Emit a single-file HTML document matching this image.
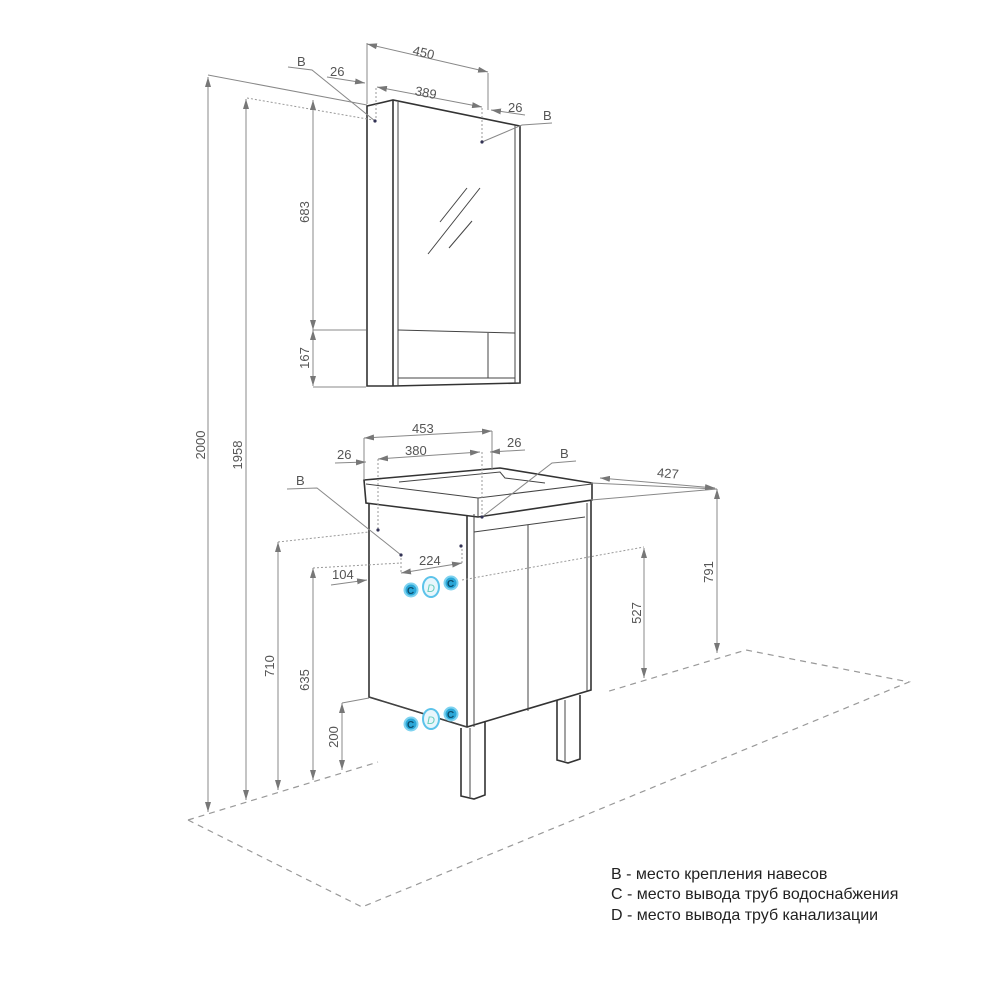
<!DOCTYPE html>
<html><head><meta charset="utf-8"><style>
html,body{margin:0;padding:0;background:#fff;}
svg{display:block;}
text{font-family:"Liberation Sans",sans-serif;fill:#555;font-size:13px;}
.o{stroke:#333;stroke-width:1.6;fill:none;}
.t{stroke:#444;stroke-width:1;fill:none;}
.d{stroke:#888;stroke-width:1;fill:none;}
.dot{stroke:#999;stroke-width:1;stroke-dasharray:2 2;fill:none;}
.fl{stroke:#999;stroke-width:1.2;stroke-dasharray:6 5;fill:none;}
.cc{fill:#2aa7d8;stroke:#7fd3f0;stroke-width:2;}
</style></head><body>
<svg width="1000" height="1000" viewBox="0 0 1000 1000" xmlns="http://www.w3.org/2000/svg">
<defs>
<marker id="a" viewBox="0 0 10 6" refX="10" refY="3" markerWidth="10" markerHeight="6" orient="auto-start-reverse" markerUnits="userSpaceOnUse"><path d="M0,0 L10,3 L0,6 z" fill="#777"/></marker>
</defs>

<path class="fl" d="M188,820 L378,762"/>
<path class="fl" d="M188,820 L362,907 L909,682 L746,650 L606,692"/>

<path class="o" d="M367,106 L393,100 L515,125 L520,126 L520,383 L393,386 L367,386 Z"/>
<line class="o" x1="393" y1="100" x2="393" y2="386"/>
<line class="t" x1="398" y1="102" x2="398" y2="386"/>
<line class="t" x1="515" y1="125" x2="515" y2="383"/>
<line class="t" x1="398" y1="330" x2="515" y2="333"/>
<line class="t" x1="488" y1="333" x2="488" y2="378"/>
<line class="t" x1="398" y1="378" x2="515" y2="378"/>
<line class="t" x1="440" y1="222" x2="467" y2="188"/>
<line class="t" x1="428" y1="254" x2="480" y2="188"/>
<line class="t" x1="449" y1="248" x2="472" y2="221"/>
<line class="d" x1="367" y1="43" x2="367" y2="104"/>
<line class="d" x1="488" y1="73" x2="488" y2="110"/>
<line class="d" x1="367" y1="44" x2="488" y2="72" marker-start="url(#a)" marker-end="url(#a)"/>
<text x="413" y="58" transform="rotate(13 428 52)">450</text>
<line class="dot" x1="376" y1="88" x2="376" y2="122"/>
<line class="dot" x1="482" y1="108" x2="482" y2="142"/>
<line class="d" x1="377" y1="87" x2="482" y2="107" marker-start="url(#a)" marker-end="url(#a)"/>
<text x="415" y="98" transform="rotate(11 430 93)">389</text>
<line class="d" x1="327" y1="77" x2="365" y2="83" marker-end="url(#a)"/>
<text x="330" y="76">26</text>
<line class="d" x1="525" y1="115" x2="491" y2="110" marker-end="url(#a)"/>
<text x="508" y="112">26</text>
<path class="d" d="M288,67 L312,70 L375,121"/>
<text x="297" y="66">B</text>
<path class="d" d="M482,142 L522,125 L552,123"/>
<text x="543" y="120">B</text>
<circle cx="375" cy="121" r="1.6" fill="#335"/>
<circle cx="482" cy="142" r="1.6" fill="#335"/>
<line class="d" x1="208" y1="75" x2="367" y2="105"/>
<line class="dot" x1="247" y1="98" x2="373" y2="120"/>
<line class="d" x1="208" y1="77" x2="208" y2="812" marker-start="url(#a)" marker-end="url(#a)"/>
<text transform="translate(205,445) rotate(-90)" text-anchor="middle">2000</text>
<line class="d" x1="246" y1="99" x2="246" y2="800" marker-start="url(#a)" marker-end="url(#a)"/>
<text transform="translate(242,455) rotate(-90)" text-anchor="middle">1958</text>
<line class="d" x1="313" y1="100" x2="313" y2="330" marker-start="url(#a)" marker-end="url(#a)"/>
<text transform="translate(309,212) rotate(-90)" text-anchor="middle">683</text>
<line class="d" x1="313" y1="330" x2="313" y2="386" marker-start="url(#a)" marker-end="url(#a)"/>
<text transform="translate(309,358) rotate(-90)" text-anchor="middle">167</text>
<line class="d" x1="313" y1="330" x2="366" y2="330"/>
<line class="d" x1="313" y1="387" x2="366" y2="387"/>

<path class="o" d="M364,480 L500,468 L592,483 L592,500 L478,517 L366,503 Z"/>
<path class="t" d="M366,484 L478,498 L592,484"/>
<line class="t" x1="478" y1="498" x2="478" y2="517"/>
<path class="t" d="M399,482 L500,472 L505,478 L545,483"/>
<path class="o" d="M369,503 L369,697 L467,727 L591,690 L591,500"/>
<line class="o" x1="467" y1="515" x2="467" y2="727"/>
<line class="t" x1="474" y1="514" x2="474" y2="727"/>
<line class="t" x1="587" y1="503" x2="587" y2="691"/>
<line class="t" x1="474" y1="532" x2="585" y2="517"/>
<line class="t" x1="528" y1="525" x2="528" y2="711"/>
<line class="t" x1="369" y1="697" x2="467" y2="727"/>
<path class="o" d="M461,728 L461,796 L474,799 L485,795 L485,721"/>
<line class="t" x1="470" y1="728" x2="470" y2="797"/>
<path class="o" d="M557,700 L557,760 L568,763 L580,759 L580,695"/>
<line class="t" x1="565" y1="700" x2="565" y2="761"/>
<line class="d" x1="364" y1="438" x2="364" y2="480"/>
<line class="d" x1="492" y1="431" x2="492" y2="470"/>
<line class="d" x1="364" y1="438" x2="492" y2="431" marker-start="url(#a)" marker-end="url(#a)"/>
<text x="412" y="433">453</text>
<line class="dot" x1="378" y1="459" x2="378" y2="530"/>
<line class="dot" x1="482" y1="452" x2="482" y2="517"/>
<line class="d" x1="378" y1="459" x2="480" y2="452" marker-start="url(#a)" marker-end="url(#a)"/>
<text x="405" y="455">380</text>
<line class="d" x1="335" y1="463" x2="366" y2="462" marker-end="url(#a)"/>
<text x="337" y="459">26</text>
<line class="d" x1="525" y1="450" x2="490" y2="452" marker-end="url(#a)"/>
<text x="507" y="447">26</text>
<path class="d" d="M576,461 L552,463 L482,517"/>
<text x="560" y="458">B</text>
<path class="d" d="M287,489 L317,488 L401,555"/>
<text x="296" y="485">B</text>
<circle cx="378" cy="530" r="1.6" fill="#335"/>
<circle cx="401" cy="555" r="1.6" fill="#335"/>
<circle cx="461" cy="546" r="1.6" fill="#335"/>
<circle cx="482" cy="517" r="1.6" fill="#335"/>
<line class="d" x1="591" y1="483" x2="717" y2="489"/>
<line class="d" x1="591" y1="500" x2="717" y2="489"/>
<line class="d" x1="600" y1="478" x2="715" y2="488" marker-start="url(#a)" marker-end="url(#a)"/>
<text x="657" y="478" transform="rotate(5 670 474)">427</text>
<line class="d" x1="717" y1="489" x2="717" y2="653" marker-start="url(#a)" marker-end="url(#a)"/>
<text transform="translate(713,572) rotate(-90)" text-anchor="middle">791</text>
<line class="dot" x1="462" y1="580" x2="644" y2="547"/>
<line class="d" x1="644" y1="548" x2="644" y2="678" marker-start="url(#a)" marker-end="url(#a)"/>
<text transform="translate(641,613) rotate(-90)" text-anchor="middle">527</text>
<line class="dot" x1="278" y1="542" x2="369" y2="532"/>
<line class="d" x1="278" y1="542" x2="278" y2="790" marker-start="url(#a)" marker-end="url(#a)"/>
<text transform="translate(274,666) rotate(-90)" text-anchor="middle">710</text>
<line class="dot" x1="313" y1="568" x2="401" y2="563"/>
<line class="dot" x1="401" y1="558" x2="401" y2="573"/>
<line class="dot" x1="462" y1="549" x2="462" y2="563"/>
<line class="d" x1="313" y1="568" x2="313" y2="780" marker-start="url(#a)" marker-end="url(#a)"/>
<text transform="translate(309,680) rotate(-90)" text-anchor="middle">635</text>
<line class="d" x1="331" y1="585" x2="367" y2="580" marker-end="url(#a)"/>
<text x="332" y="579">104</text>
<line class="d" x1="401" y1="573" x2="462" y2="563" marker-start="url(#a)" marker-end="url(#a)"/>
<text x="419" y="565">224</text>
<line class="d" x1="342" y1="703" x2="369" y2="698"/>
<line class="d" x1="342" y1="703" x2="342" y2="770" marker-start="url(#a)" marker-end="url(#a)"/>
<text transform="translate(338,737) rotate(-90)" text-anchor="middle">200</text>

<g>
<circle class="cc" cx="411" cy="590" r="6.5"/><text x="407" y="594" style="fill:#0c4f6e;font-size:10px;font-weight:bold">C</text>
<ellipse cx="431" cy="587" rx="8" ry="10" fill="#e8f6fc" stroke="#5cc3ea" stroke-width="2"/><text x="427" y="592" style="fill:#6cb;font-size:11px;font-style:italic">D</text>
<circle class="cc" cx="451" cy="583" r="6.5"/><text x="447" y="587" style="fill:#0c4f6e;font-size:10px;font-weight:bold">C</text>
<circle class="cc" cx="411" cy="724" r="6.5"/><text x="407" y="728" style="fill:#0c4f6e;font-size:10px;font-weight:bold">C</text>
<ellipse cx="431" cy="719" rx="8" ry="10" fill="#e8f6fc" stroke="#5cc3ea" stroke-width="2"/><text x="427" y="724" style="fill:#6cb;font-size:11px;font-style:italic">D</text>
<circle class="cc" cx="451" cy="714" r="6.5"/><text x="447" y="718" style="fill:#0c4f6e;font-size:10px;font-weight:bold">C</text>
</g>

<text x="611" y="879" style="fill:#222;font-size:16px">B - место крепления навесов</text>
<text x="611" y="899" style="fill:#222;font-size:16px">C - место вывода труб водоснабжения</text>
<text x="611" y="920" style="fill:#222;font-size:16px">D - место вывода труб канализации</text>
</svg>
</body></html>
